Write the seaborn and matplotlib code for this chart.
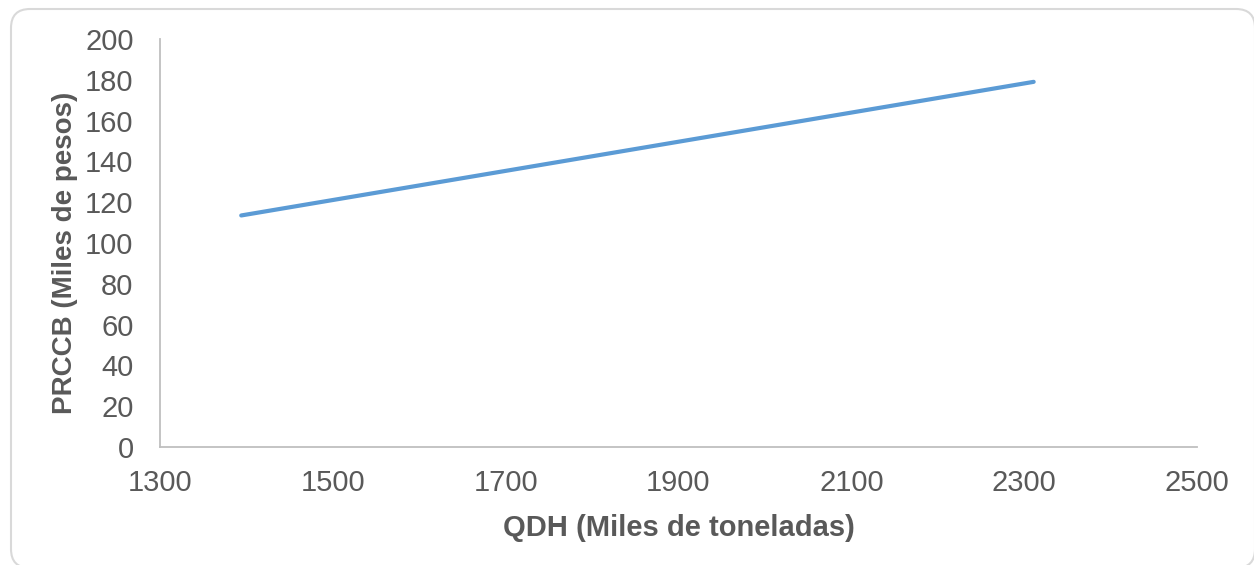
import matplotlib
matplotlib.use("Agg")
import matplotlib.pyplot as plt
from matplotlib.patches import FancyBboxPatch
import seaborn as sns
import pandas as pd

# Quantity demanded vs. price series
qdh = [1394, 2311]
prccb = [113.5, 179.0]

x_ticks = [1300, 1500, 1700, 1900, 2100, 2300, 2500]
y_ticks = [0, 20, 40, 60, 80, 100, 120, 140, 160, 180, 200]

df = pd.DataFrame({"QDH": qdh, "PRCCB": prccb})

sns.set_style("white")
plt.rcParams["font.family"] = ["Liberation Sans", "DejaVu Sans"]

W, H = 1254, 565
fig = plt.figure(figsize=(W / 100, H / 100), dpi=100)

# Rounded chart-area frame, laid out in pixel units
frame = FancyBboxPatch((11, -3), 1255 - 11, 559,
                       boxstyle="round,pad=0,rounding_size=19",
                       transform=None, facecolor="none",
                       edgecolor="#d9d9d9", linewidth=1.5, zorder=-1)
fig.patches.append(frame)

ax = fig.add_axes([160 / W, 1 - 447 / H, (1197 - 160) / W, (447 - 39) / H])
ax.set_facecolor("none")

sns.lineplot(data=df, x="QDH", y="PRCCB", ax=ax, color="#5b9bd5",
             linewidth=3, solid_capstyle="round")

ax.set_xlim(1300, 2500)
ax.set_ylim(0, 200)
ax.set_xticks(x_ticks)
ax.set_yticks(y_ticks)

grey = "#595959"
for s in ["top", "right"]:
    ax.spines[s].set_visible(False)
for s in ["left", "bottom"]:
    ax.spines[s].set_color("#bfbfbf")
    ax.spines[s].set_linewidth(1.3)

ax.tick_params(axis="both", direction="out", length=7, width=1.3,
               color="#bfbfbf", labelsize=21, labelcolor=grey)
ax.tick_params(axis="x", pad=9)
ax.tick_params(axis="y", pad=12)

ax.set_xlabel("QDH (Miles de toneladas)", fontsize=21, fontweight="bold",
              color=grey, labelpad=12)
ax.set_ylabel("PRCCB (Miles de pesos)", fontsize=20, fontweight="bold",
              color=grey, labelpad=5)
ax.yaxis.label.set_y(0.475)

fig.savefig("out.png", dpi=100)
